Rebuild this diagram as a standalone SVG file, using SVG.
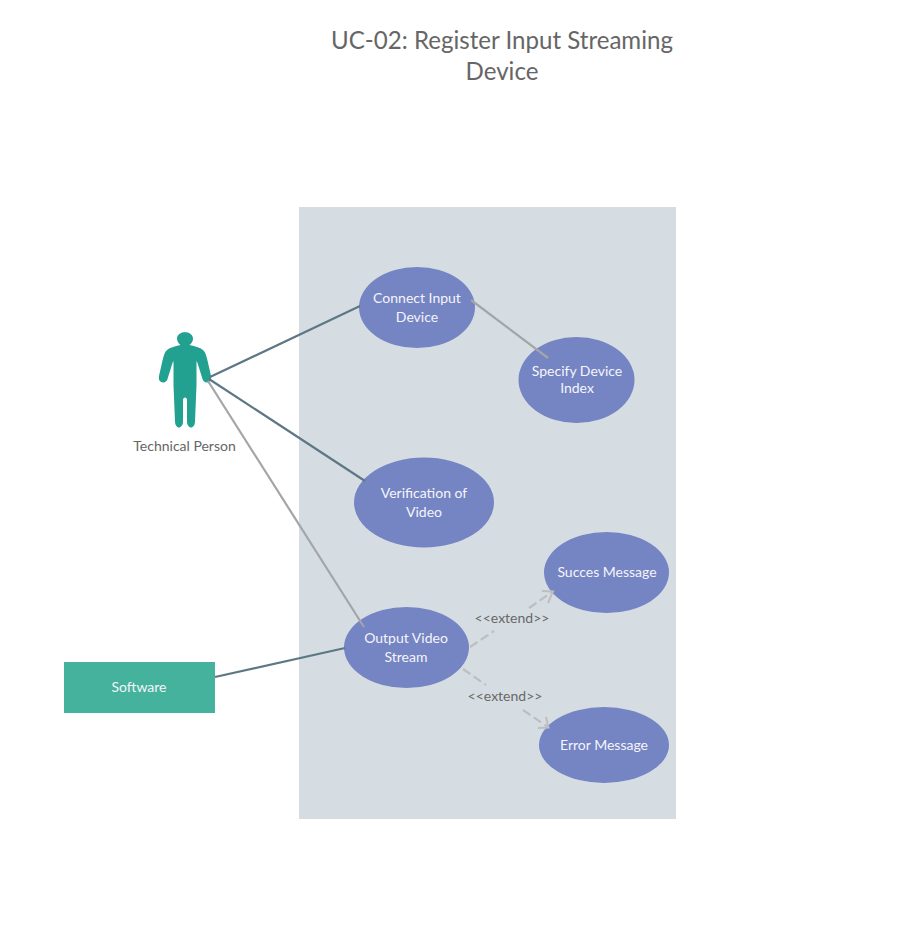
<svg xmlns="http://www.w3.org/2000/svg" width="912" height="930" viewBox="0 0 912 930">
<defs>
<style>
text{font-family:Lato,"Liberation Sans",sans-serif;text-anchor:middle}
.t{font-size:14px;fill:#f4f5fa}
.u{fill:#7584c3}
.d{font-size:14px;fill:#686868}
.c{fill:none;stroke-width:2.2}
.dk{stroke:#5d7785}
.gr{stroke:#a4a5a8}
.ex{stroke:#bcbfc2;stroke-width:2.2;fill:none;stroke-dasharray:9 4}
.ah{stroke:#bcbfc2;stroke-width:2;fill:none}
</style>
</defs>
<rect width="912" height="930" fill="#fff"/>
<g id="title"><text x="502" y="48.500" font-size="24.100" fill="#666">UC-02: Register Input Streaming</text><text x="502" y="79.500" font-size="24.100" fill="#666">Device</text></g>
<g id="boundary"><rect x="299" y="207" width="377" height="612" fill="#d6dde2"/></g>
<g id="uc1"><ellipse class="u" cx="417" cy="307.500" rx="58" ry="40.500"/><text class="t" x="417" y="303">Connect Input</text><text class="t" x="417" y="322">Device</text></g>
<g id="uc2"><ellipse class="u" cx="576.500" cy="380" rx="58" ry="43"/><text class="t" x="577" y="376">Specify Device</text><text class="t" x="577" y="393">Index</text></g>
<g id="uc3"><ellipse class="u" cx="424" cy="502.500" rx="70" ry="45"/><text class="t" x="424" y="498">Verification of</text><text class="t" x="424" y="517">Video</text></g>
<g id="uc4"><ellipse class="u" cx="606.500" cy="572.500" rx="62.500" ry="40.500"/><text class="t" x="607" y="577">Succes Message</text></g>
<g id="uc5"><ellipse class="u" cx="406.500" cy="647.500" rx="62.500" ry="40.500"/><text class="t" x="406" y="643">Output Video</text><text class="t" x="406" y="662">Stream</text></g>
<g id="uc6"><ellipse class="u" cx="604" cy="745" rx="65" ry="38"/><text class="t" x="604" y="750">Error Message</text></g>
<g id="actor"><path fill="#22a090" d="M184.500 332c5 0 8.500 3 8.500 6.500 0 3-1.500 5-3.500 6.500 6 1.500 11 2.500 14 5.500 2 2 3 6 4 10l3.500 15.500c.7 3.500-.5 5.500-3 6.200-2.500.7-4.500-.4-5.500-3.200l-5-16-1-2v24l-1.500 36.500c0 3.500-2 6-4 6s-4-2.500-4-6v-21.500c0-1.500-1-2.500-2-2.500s-2 1-2 2.500v21.500c0 3.500-2 6-4 6s-4-2.500-4-6l-1.500-36.500v-24l-1 2-5 16c-1 2.800-3 3.900-5.500 3.200-2.500-.7-3.700-2.700-3-6.200l3.500-15.500c1-4 2-8 4-10 3-3 8-4 14-5.500-2-1.500-3.500-3.500-3.500-6.500 0-3.500 3.500-6.500 8.500-6.500z"/><text x="184.500" y="451" font-size="14" fill="#666">Technical Person</text></g>
<g id="software"><rect x="64" y="662" width="151" height="51" fill="#45b29d"/><text class="t" x="139" y="692">Software</text></g>
<g id="connectors">
<path class="c dk" d="M210 377L360 306"/>
<path class="c dk" d="M209 379L365 481"/>
<path class="c gr" d="M208 381L364 627"/>
<path class="c dk" d="M215 677L345 648"/>
<path class="c gr" d="M471 300L548 358"/>
<path class="ex" d="M470 647L494 631"/>
<path class="ex" d="M529 608L552 592"/>
<path class="ah" d="M542 591L553 591.500L548 603"/>
<path class="ex" d="M463 669L486 685"/>
<path class="ex" d="M523 710L548 727"/>
<path class="ah" d="M538 728L548.500 727.500L546 717"/>
</g>
<g id="labels"><text class="d" x="512" y="623">&lt;&lt;extend&gt;&gt;</text><text class="d" x="505" y="701">&lt;&lt;extend&gt;&gt;</text></g>
</svg>
